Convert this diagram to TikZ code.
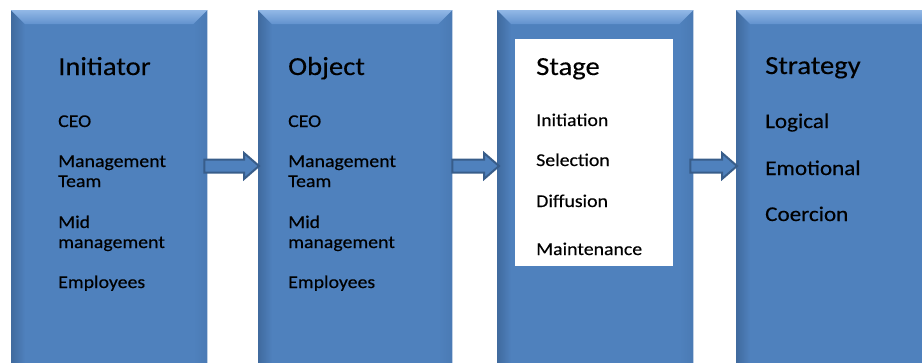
\documentclass[tikz,border=0pt]{standalone}
\usepackage{fontspec}
\setmainfont[FakeStretch=1.1,FakeBold=0.3]{Carlito}
\usetikzlibrary{calc}

\definecolor{boxblue}{RGB}{79,129,189}
\definecolor{boxleft}{RGB}{64,106,158}
\definecolor{boxright}{RGB}{74,122,180}
\definecolor{bevtop}{RGB}{146,184,230}
\definecolor{bevbot}{RGB}{98,146,206}
\definecolor{arrowline}{RGB}{56,93,138}

% bevelled edges of a box node
\newcommand{\bevel}[1]{%
	\shade[left color=boxleft, right color=boxblue] (#1.north west) -- ([xshift=14pt,yshift=-14pt]#1.north west) -- ([xshift=14pt]#1.south west) -- (#1.south west) -- cycle;
	\shade[left color=boxblue, right color=boxright] (#1.north east) -- ([xshift=-14pt,yshift=-14pt]#1.north east) -- ([xshift=-14pt]#1.south east) -- (#1.south east) -- cycle;
	\shade[top color=bevtop, bottom color=bevbot] (#1.north west) -- (#1.north east) -- ([xshift=-14pt,yshift=-14pt]#1.north east) -- ([xshift=14pt,yshift=-14pt]#1.north west) -- cycle;}

\begin{document}
\begin{tikzpicture}[x=1pt,y=-1pt]
			\tikzstyle{box} = [rectangle, fill=boxblue, inner sep=0, minimum height=370pt, anchor=north west];
			\tikzstyle{card} = [rectangle, fill=white, inner sep=0, anchor=north west];
			\tikzstyle{title} = [anchor=base west, inner sep=0, font=\fontsize{26}{30}\selectfont];
			\tikzstyle{item} = [anchor=base west, inner sep=0, font=\fontsize{18}{22}\selectfont];
			\tikzstyle{bigitem} = [anchor=base west, inner sep=0, font=\fontsize{21}{25}\selectfont];
			\tikzset{blockarrow/.style={draw=arrowline, fill=boxblue, line width=2pt, line join=miter,
				to path={let \p1=(\tikztostart), \p2=(\tikztotarget) in
					(\x1,\y1+6.5pt) -- (\x2-15pt,\y1+6.5pt) -- (\x2-15pt,\y1+13pt) -- (\x2,\y1)
					-- (\x2-15pt,\y1-13pt) -- (\x2-15pt,\y1-6.5pt) -- (\x1,\y1-6.5pt) -- cycle}}}
			\useasboundingbox (0,0) rectangle (922,362);
			\clip (0,0) rectangle (922,362);
			\node (initiator) [box, minimum width=196pt] at (11,10) {};
			\node (object) [box, minimum width=194pt] at (258,10) {};
			\node (stage) [box, minimum width=196pt] at (497,10) {};
			\node (strategy) [box, minimum width=214pt] at (736,10) {};
			\bevel{initiator}
			\bevel{object}
			\bevel{stage}
			\bevel{strategy}
			\node (stagecard) [card, minimum width=158pt, minimum height=227pt] at (515,39) {};
			\draw [blockarrow] ([xshift=-3pt,yshift=-156pt]initiator.north east) to ([xshift=1pt,yshift=-156pt]object.north west);
			\draw [blockarrow] ([yshift=-156pt]object.north east) to ([xshift=2pt,yshift=-156pt]stage.north west);
			\draw [blockarrow] ([xshift=-3pt,yshift=-156pt]stage.north east) to ([xshift=1pt,yshift=-156pt]strategy.north west);
			% initiator
			\node (initT) [title] at (58,75) {Initiator};
			\node (init1) [item] at (58,127) {CEO};
			\node (init2) [item] at (58,167) {Management};
			\node (init2b) [item] at (58,187) {Team};
			\node (init3) [item] at (58,228) {Mid};
			\node (init3b) [item] at (58,248) {management};
			\node (init4) [item] at (58,288) {Employees};
			% object
			\node (objT) [title] at (288,75) {Object};
			\node (obj1) [item] at (288,127) {CEO};
			\node (obj2) [item] at (288,167) {Management};
			\node (obj2b) [item] at (288,187) {Team};
			\node (obj3) [item] at (288,228) {Mid};
			\node (obj3b) [item] at (288,248) {management};
			\node (obj4) [item] at (288,288) {Employees};
			% stage
			\node (stageT) [title] at (536,75) {Stage};
			\node (stage1) [item] at (536,126) {Initiation};
			\node (stage2) [item] at (536,166) {Selection};
			\node (stage3) [item] at (536,207) {Diffusion};
			\node (stage4) [item] at (536,255) {Maintenance};
			% strategy
			\node (stratT) [title] at (765,74) {Strategy};
			\node (strat1) [bigitem] at (765,128) {Logical};
			\node (strat2) [bigitem] at (765,175) {Emotional};
			\node (strat3) [bigitem] at (765,221) {Coercion};
		\end{tikzpicture}
\end{document}
